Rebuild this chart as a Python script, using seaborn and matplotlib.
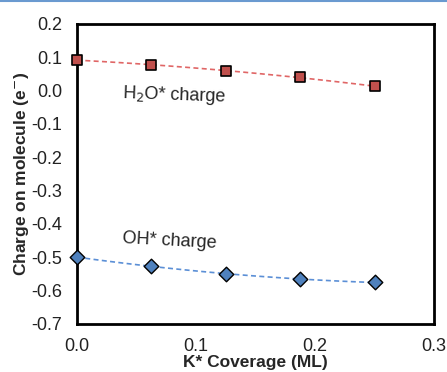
import matplotlib
matplotlib.use("Agg")
import matplotlib.pyplot as plt
import seaborn as sns
import pandas as pd
import numpy as np
from matplotlib.lines import Line2D

coverage = [0.0, 0.0625, 0.125, 0.1875, 0.25]
h2o_charge = [0.092, 0.077, 0.060, 0.040, 0.013]
oh_charge = [-0.500, -0.526, -0.549, -0.566, -0.575]
x_ticks = [0.0, 0.1, 0.2, 0.3]
y_ticks = [0.2, 0.1, 0.0, -0.1, -0.2, -0.3, -0.4, -0.5, -0.6, -0.7]

sns.set_theme(style="white")
plt.rcParams['font.family'] = ['Liberation Sans', 'DejaVu Sans']

df = pd.DataFrame({"cov": coverage, "h2o": h2o_charge, "oh": oh_charge})

fig = plt.figure(figsize=(4.47, 3.72), dpi=100)
ax = fig.add_axes([77/447, 1 - 324/372, (434-77)/447, (324-24)/372])

# trendlines (quadratic fits of the data)
xs = np.linspace(min(coverage), max(coverage), 100)
ph = np.polyfit(coverage, h2o_charge, 2)
po = np.polyfit(coverage, oh_charge, 2)
ax.plot(xs, np.polyval(ph, xs), ls=(0, (3, 2)), color="#E06666", lw=1.2, zorder=2)
ax.plot(xs, np.polyval(po, xs), ls=(0, (3, 2)), color="#5B8FD6", lw=1.2, zorder=2)

sns.scatterplot(data=df, x="cov", y="h2o", marker="s", s=60, color="#C0504D",
                edgecolor="black", linewidth=1.2, ax=ax, zorder=3, clip_on=False)
sns.scatterplot(data=df, x="cov", y="oh", marker="D", s=55, color="#4F81BD",
                edgecolor="black", linewidth=1.0, ax=ax, zorder=3, clip_on=False)

ax.set_xlim(0, 0.3)
ax.set_ylim(-0.7, 0.2)
ax.set_xticks(x_ticks)
ax.set_yticks(y_ticks)
ax.set_xticklabels([f"{v:.1f}" for v in x_ticks], fontsize=13)
ax.set_yticklabels([f"{v:.1f}" for v in y_ticks], fontsize=13)
ax.tick_params(axis="both", direction="in", length=4, width=0.8, color="#AAAAAA",
               labelcolor="#222222")
ax.tick_params(axis="y", pad=10.5)
ax.tick_params(axis="x", pad=10)
for sp in ax.spines.values():
    sp.set_linewidth(2)
    sp.set_color("black")

ax.set_xlabel("K* Coverage (ML)", fontsize=12.5, fontweight="bold", labelpad=0)
ax.set_ylabel("Charge on molecule (e$^{-}$)", fontsize=12.5, fontweight="bold", labelpad=0)

ax.text(0.038, -0.015, "H$_2$O* charge", fontsize=13, rotation=-2, va="center", ha="left")
ax.text(0.038, -0.45, "OH* charge", fontsize=13, rotation=-3, va="center", ha="left")

fig.add_artist(Line2D([0, 1], [0.998, 0.998], transform=fig.transFigure,
                      color="#6A9AD0", lw=1.5))

fig.savefig("out.png", dpi=100)
